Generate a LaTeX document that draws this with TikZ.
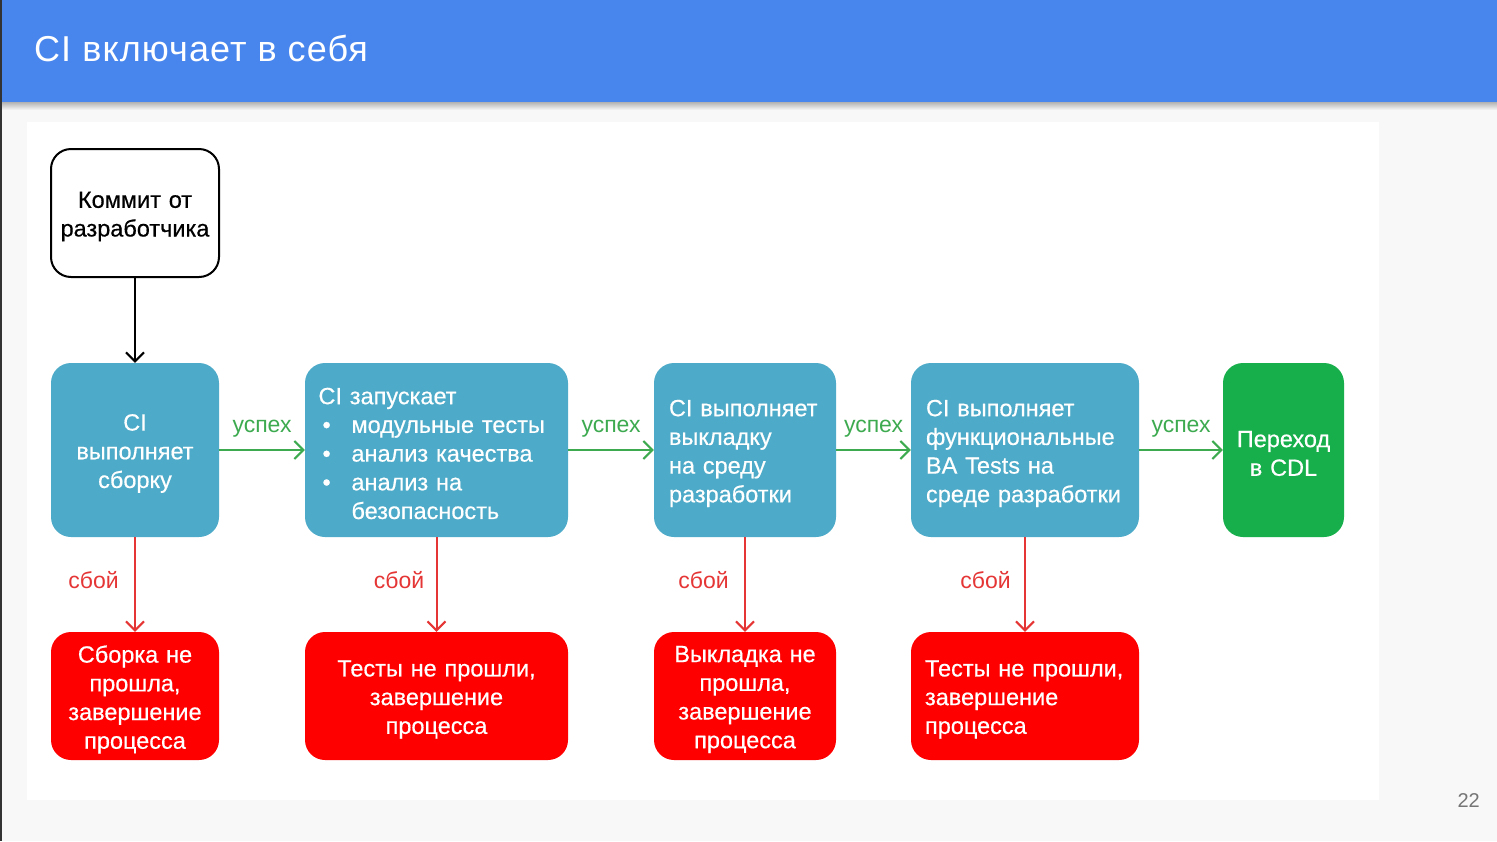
\documentclass[tikz,border=0pt]{standalone}
\usepackage{fontspec}
\setmainfont{Liberation Sans}
\newfontfamily\boxfont[FakeBold=0.5]{Liberation Sans}
\usetikzlibrary{arrows.meta}
\definecolor{hdr}{HTML}{4886EE}
\definecolor{slidebg}{HTML}{F8F8F8}
\definecolor{boxblue}{HTML}{4DAAC8}
\definecolor{boxgreen}{HTML}{17AF4B}
\definecolor{boxred}{HTML}{FE0000}
\definecolor{okgreen}{HTML}{3DAA50}
\definecolor{failred}{HTML}{E53535}
\definecolor{pagegray}{HTML}{757575}
\tikzset{
  base/.style={rounded corners=20pt, inner sep=0pt, font=\boxfont\fontsize{23.5}{28.7}\selectfont,
    execute at end node={\par\vspace{-7pt}}},
  whitebox/.style={base, draw=black, line width=2pt, fill=white, text=black, align=center},
  bluebox/.style={base, fill=boxblue, text=white, minimum height=174pt},
  greenbox/.style={base, fill=boxgreen, text=white, minimum height=174pt, align=center},
  redbox/.style={base, fill=boxred, text=white, minimum height=128pt},
  okarrow/.style={draw=okgreen, line width=2pt, -{Straight Barb[length=9pt,width=18pt,line width=2pt]}},
  failarrow/.style={draw=failred, line width=2pt, -{Straight Barb[length=9pt,width=18pt,line width=2pt]}},
  blackarrow/.style={draw=black, line width=2pt, -{Straight Barb[length=9pt,width=18pt,line width=2pt]}},
  oklabel/.style={text=okgreen, font=\fontsize{23}{26}\selectfont},
  faillabel/.style={text=failred, font=\fontsize{23}{26}\selectfont},
}
\newcommand{\bul}{\makebox[33pt][l]{\hspace{4pt}•}}
\begin{document}
\begin{tikzpicture}[x=1pt,y=-1pt]
\useasboundingbox (0,0) rectangle (1497,841);
% background
\fill[slidebg] (0,0) rectangle (1497,841);
\fill[white] (27,122) rectangle (1379,800);
% header with shadow
\shade[top color=black!30, bottom color=slidebg] (0,102) rectangle (1497,110);
\fill[hdr] (0,0) rectangle (1497,102);
\fill[black!80] (0,0) rectangle (2,841);
\node[anchor=base west, text=white, font=\fontsize{36}{42}\selectfont\addfontfeatures{LetterSpace=3}, inner sep=0pt] (title) at (34,61) {CI включает в себя};
% page number
\node[anchor=base east, text=pagegray, font=\fontsize{20}{22}\selectfont, inner sep=0pt] (pnum) at (1480,807) {22};

% nodes
\node[whitebox, minimum width=168pt, minimum height=128pt, text width=164pt] (commit) at (135,213) {Коммит от\\разработчика};

\node[bluebox, minimum width=168pt, text width=160pt, align=center] (b1) at (135,450) {CI\\выполняет\\сборку};
\node[bluebox, minimum width=263pt, text width=236pt, align=left] (b2) at (436.5,450) {CI запускает\\\bul модульные тесты\\\bul анализ качества\\\bul анализ на\\\hspace*{33pt}безопасность};
\node[bluebox, minimum width=182pt, text width=152pt, align=left] (b3) at (745,450) {CI выполняет\\выкладку\\на среду\\разработки};
\node[bluebox, minimum width=228pt, text width=198pt, align=left] (b4) at (1025,450) {CI выполняет\\функциональные\\BA Tests на\\среде разработки};
\node[greenbox, minimum width=121pt, text width=115pt] (g) at (1283.5,450) {Переход\\в CDL};

\node[redbox, minimum width=168pt, text width=164pt, align=center] (r1) at (135,696) {Сборка не\\прошла,\\завершение\\процесса};
\node[redbox, minimum width=263pt, text width=240pt, align=center] (r2) at (436.5,696) {Тесты не прошли,\\завершение\\процесса};
\node[redbox, minimum width=182pt, text width=176pt, align=center] (r3) at (745,696) {Выкладка не\\прошла,\\завершение\\процесса};
\node[redbox, minimum width=228pt, text width=200pt, align=left] (r4) at (1025,696) {Тесты не прошли,\\завершение\\процесса};

% connectors
\draw[blackarrow] (commit) -- (b1);
\draw[okarrow] (b1) -- node[oklabel, above=8pt] (s1) {успех} (b2);
\draw[okarrow] (b2) -- node[oklabel, above=8pt] (s2) {успех} (b3);
\draw[okarrow] (b3) -- node[oklabel, above=8pt] (s3) {успех} (b4);
\draw[okarrow] (b4) -- node[oklabel, above=8pt] (s4) {успех} (g);

\draw[failarrow] (b1) -- node[faillabel, left=12pt, pos=0.45] (f1) {сбой} (r1);
\draw[failarrow] (b2) -- node[faillabel, left=8pt, pos=0.45] (f2) {сбой} (r2);
\draw[failarrow] (b3) -- node[faillabel, left=12pt, pos=0.45] (f3) {сбой} (r3);
\draw[failarrow] (b4) -- node[faillabel, left=10pt, pos=0.45] (f4) {сбой} (r4);
\end{tikzpicture}
\end{document}
